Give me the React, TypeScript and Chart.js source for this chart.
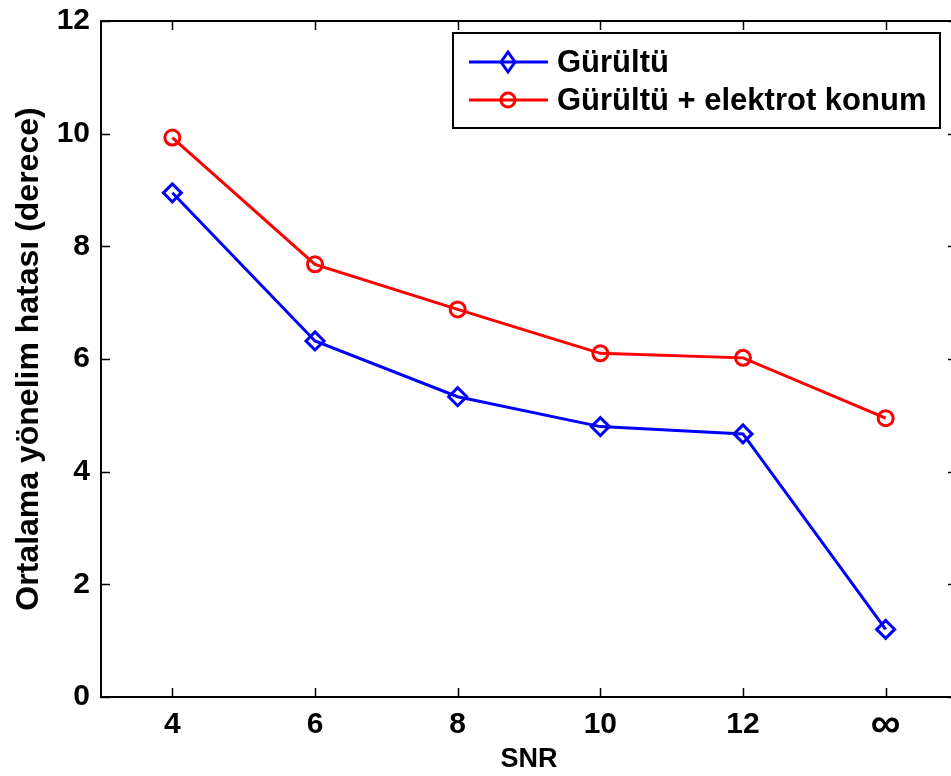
import React, { useEffect, useRef } from "react";
import { Chart, registerables } from "chart.js";

Chart.register(...registerables);

const categories = ["4", "6", "8", "10", "12", "∞"];
const noiseOnly = [8.95, 6.32, 5.33, 4.8, 4.67, 1.2];
const noiseAndElectrode = [9.93, 7.68, 6.88, 6.1, 6.02, 4.95];
const seriesLabels = ["Gürültü", "Gürültü + elektrot konum"];
const yTicks = [0, 2, 4, 6, 8, 10, 12];

const FONT = "'Liberation Sans', Arial, sans-serif";
const SHIFT = 8;

const frame = {
  id: "frame",
  afterDraw(chart: any) {
    const ctx = chart.ctx;
    const a = chart.chartArea;
    const xs = chart.scales.x;
    const ys = chart.scales.y;
    ctx.save();
    ctx.strokeStyle = "#000";
    ctx.lineWidth = 2;
    ctx.strokeRect(a.left, a.top, a.right - a.left, a.bottom - a.top);
    ctx.lineWidth = 1.5;
    const tl = 9;
    ctx.beginPath();
    xs.ticks.forEach((_: any, i: number) => {
      const x = Math.round(xs.getPixelForTick(i)) + 0.5;
      ctx.moveTo(x, a.bottom);
      ctx.lineTo(x, a.bottom - tl);
      ctx.moveTo(x, a.top);
      ctx.lineTo(x, a.top + tl);
    });
    ys.ticks.forEach((_: any, i: number) => {
      const y = Math.round(ys.getPixelForTick(i)) + 0.5;
      ctx.moveTo(a.left, y);
      ctx.lineTo(a.left + tl, y);
      ctx.moveTo(a.right, y);
      ctx.lineTo(a.right - tl, y);
    });
    ctx.stroke();

    // legend box
    const bx = 453, by = 33 + SHIFT, bw = 487, bh = 95;
    ctx.fillStyle = "#fff";
    ctx.fillRect(bx, by, bw, bh);
    ctx.lineWidth = 2;
    ctx.strokeRect(bx, by, bw, bh);
    const rows = [62 + SHIFT, 100 + SHIFT];
    chart.data.datasets.forEach((ds: any, i: number) => {
      const y = rows[i];
      ctx.strokeStyle = ds.borderColor;
      ctx.lineWidth = 3;
      ctx.beginPath();
      ctx.moveTo(469, y);
      ctx.lineTo(548, y);
      ctx.stroke();
      ctx.beginPath();
      if (ds.pointStyle === "rectRot") {
        ctx.moveTo(508, y - 10);
        ctx.lineTo(515, y);
        ctx.lineTo(508, y + 10);
        ctx.lineTo(501, y);
        ctx.closePath();
      } else {
        ctx.arc(508, y, 7, 0, Math.PI * 2);
      }
      ctx.stroke();
      ctx.fillStyle = "#000";
      ctx.font = `bold 31px ${FONT}`;
      ctx.textBaseline = "middle";
      ctx.textAlign = "left";
      ctx.fillText(ds.label, 557, y + 1);
    });
    ctx.restore();
  },
};

export default function App() {
  const ref = useRef<HTMLCanvasElement>(null);
  useEffect(() => {
    if (!ref.current) return;
    const chart = new Chart(ref.current, {
      type: "line",
      data: {
        labels: categories,
        datasets: [
          {
            label: seriesLabels[0],
            data: noiseOnly,
            borderColor: "#0000ff",
            backgroundColor: "transparent",
            pointBackgroundColor: "transparent",
            pointBorderColor: "#0000ff",
            pointStyle: "rectRot",
            pointRadius: 9,
            pointBorderWidth: 3,
            borderWidth: 3,
            tension: 0,
          },
          {
            label: seriesLabels[1],
            data: noiseAndElectrode,
            borderColor: "#ff0000",
            backgroundColor: "transparent",
            pointBackgroundColor: "transparent",
            pointBorderColor: "#ff0000",
            pointStyle: "circle",
            pointRadius: 7.5,
            pointBorderWidth: 3,
            borderWidth: 3,
            tension: 0,
          },
        ],
      },
      options: {
        animation: false,
        responsive: false,
        devicePixelRatio: 1,
        layout: { padding: { top: 12, right: 18, left: 0, bottom: 0 } },
        plugins: { legend: { display: false }, tooltip: { enabled: false } },
        scales: {
          x: {
            type: "category",
            offset: true,
            grid: { display: false, drawTicks: false },
            border: { display: false },
            ticks: {
              color: "#000",
              font: (c: any) =>
                c.tick && c.tick.label === "∞"
                  ? { family: FONT, size: 42, weight: "bold", lineHeight: 0.86 }
                  : { family: FONT, size: 30, weight: "bold" },
              padding: 10,
            },
            title: {
              display: true,
              text: "SNR",
              color: "#000",
              font: { family: FONT, size: 27, weight: "bold" },
              padding: { top: 0, bottom: 0 },
            },
            afterFit: (s: any) => {
              s.height = 79;
            },
          },
          y: {
            min: 0,
            max: 12,
            afterBuildTicks: (s: any) => {
              s.ticks = yTicks.map((v) => ({ value: v }));
            },
            grid: { display: false, drawTicks: false },
            border: { display: false },
            ticks: { color: "#000", font: { family: FONT, size: 30, weight: "bold" }, padding: 11 },
            title: {
              display: true,
              text: "Ortalama yönelim hatası (derece)",
              color: "#000",
              font: { family: FONT, size: 32, weight: "bold" },
              padding: { top: 10, bottom: 0 },
            },
            afterFit: (s: any) => {
              s.width = 101;
            },
          },
        },
      },
      plugins: [frame],
    });
    return () => chart.destroy();
  }, []);
  return (
    <div
      style={{
        position: "fixed",
        left: 0,
        top: 0,
        width: 951,
        height: 776,
        overflow: "hidden",
        background: "#fff",
      }}
    >
      <canvas
        ref={ref}
        width={975}
        height={776 + SHIFT}
        style={{ display: "block", position: "absolute", left: 0, top: -SHIFT }}
      />
    </div>
  );
}
